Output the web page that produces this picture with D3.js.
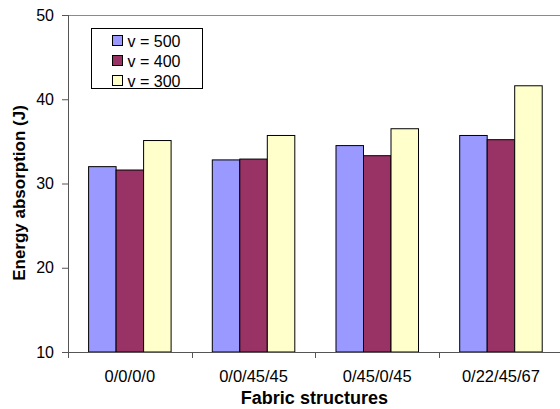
<!DOCTYPE html>
<html>
<head>
<meta charset="utf-8">
<script src="https://cdn.jsdelivr.net/npm/d3@7"></script>
<style>
  html, body { margin: 0; padding: 0; background: #fff; }
  svg { display: block; font-family: "Liberation Sans", Arial, sans-serif; }
</style>
</head>
<body>
<svg id="chart" width="560" height="409"></svg>
<script>
const categories = ["0/0/0/0", "0/0/45/45", "0/45/0/45", "0/22/45/67"];
const seriesNames = ["v = 500", "v = 400", "v = 300"];
const v500 = [32.0, 32.8, 34.5, 35.7];
const v400 = [31.6, 32.9, 33.3, 35.2];
const v300 = [35.1, 35.7, 36.5, 41.6];
const seriesColors = ["#9999FF", "#993366", "#FFFFCC"];
const yTicks = [10, 20, 30, 40, 50];
const xTitle = "Fabric structures";
const yTitle = "Energy absorption (J)";

const seriesValues = [v500, v400, v300];
const svg = d3.select("#chart");

const plotLeft = 68, plotRight = 562.8, plotTop = 15, plotBottom = 352;

const x = d3.scaleBand().domain(categories).range([plotLeft, plotRight])
  .paddingInner(0.333).paddingOuter(0.1665);
const xs = d3.scaleBand().domain(seriesNames).range([0, x.bandwidth()]).padding(0);
const y = d3.scaleLinear().domain([10, 50]).range([plotBottom, plotTop]);

// top border line
svg.append("line")
  .attr("x1", plotLeft).attr("x2", 560).attr("y1", y(50) + 0.5).attr("y2", y(50) + 0.5)
  .attr("stroke", "#8a8a8a").attr("stroke-width", 1);

// bars
const groups = svg.append("g").selectAll("g")
  .data(categories).join("g")
  .attr("transform", d => `translate(${x(d)},0)`);

groups.selectAll("rect")
  .data((c, i) => seriesNames.map((s, j) => ({ s, j, v: seriesValues[j][i] })))
  .join("rect")
  .attr("x", d => xs(d.s))
  .attr("y", d => y(d.v))
  .attr("width", xs.bandwidth())
  .attr("height", d => y(10) - y(d.v))
  .attr("fill", d => seriesColors[d.j])
  .attr("stroke", "#000")
  .attr("stroke-width", 1);

// y axis
const yAxis = svg.append("g")
  .attr("transform", `translate(${plotLeft},0)`)
  .call(d3.axisLeft(y).tickValues(yTicks).tickSize(6).tickPadding(8).tickFormat(d3.format("d")));
yAxis.select(".domain").attr("stroke", "#555").attr("d", `M0.5,${plotTop}V${plotBottom}`);
yAxis.selectAll(".tick line").attr("stroke", "#555");
yAxis.selectAll(".tick text").attr("font-size", 16).attr("fill", "#000")
  .attr("font-family", "Liberation Sans, Arial, sans-serif");

// x axis
const xAxis = svg.append("g").attr("transform", `translate(0,${plotBottom})`);
xAxis.append("line").attr("x1", plotLeft - 6).attr("x2", 560).attr("y1", 0.5).attr("y2", 0.5)
  .attr("stroke", "#555");
const boundaries = categories.map(c => x(c) - x.step() * x.paddingInner() / 2);
xAxis.selectAll("line.tk").data(boundaries).join("line").attr("class", "tk")
  .attr("x1", d => Math.round(d) + 0.5).attr("x2", d => Math.round(d) + 0.5)
  .attr("y1", 0).attr("y2", 6).attr("stroke", "#555");
xAxis.selectAll("text").data(categories).join("text")
  .attr("x", d => x(d) + x.bandwidth() / 2)
  .attr("y", 29.5)
  .attr("text-anchor", "middle")
  .attr("font-size", 16.5)
  .text(d => d);

// axis titles
svg.append("text")
  .attr("x", (plotLeft + plotRight) / 2 - 1).attr("y", 404)
  .attr("text-anchor", "middle").attr("font-weight", "bold").attr("font-size", 18)
  .text(xTitle);
svg.append("text")
  .attr("transform", "translate(25,193) rotate(-90)")
  .attr("text-anchor", "middle").attr("font-weight", "bold").attr("font-size", 17)
  .text(yTitle);

// legend
const lg = svg.append("g");
lg.append("rect").attr("x", 91.5).attr("y", 28.5).attr("width", 111).attr("height", 60)
  .attr("fill", "#fff").attr("stroke", "#000");
const items = lg.selectAll("g.it").data(seriesNames).join("g").attr("class", "it")
  .attr("transform", (d, i) => `translate(0,${41 + i * 20})`);
items.append("rect").attr("x", 112.5).attr("y", -5.5).attr("width", 10).attr("height", 10)
  .attr("fill", (d, i) => seriesColors[i]).attr("stroke", "#000");
items.append("text").attr("x", 127.5).attr("y", 5.5).attr("font-size", 16).text(d => d);
</script>
</body>
</html>
